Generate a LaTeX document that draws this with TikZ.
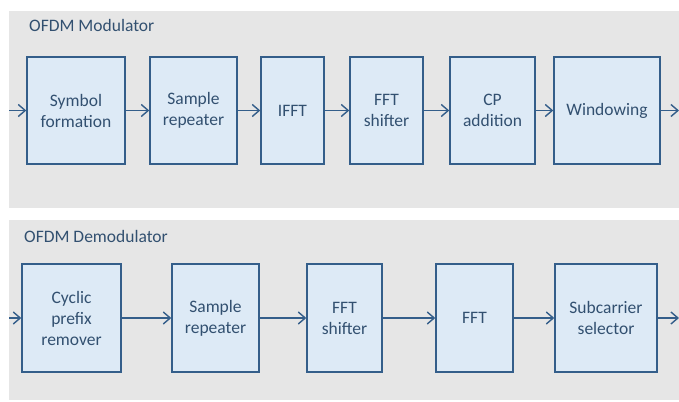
\documentclass[tikz,border=0pt]{standalone}
\usepackage{fontspec}
\setmainfont{Carlito}
\usetikzlibrary{positioning,arrows.meta}

\definecolor{panelgray}{RGB}{230,230,230}
\definecolor{boxfill}{RGB}{221,234,246}
\definecolor{boxline}{RGB}{52,94,138}
\definecolor{txtblue}{RGB}{50,80,112}

\begin{document}
\begin{tikzpicture}[x=1pt,y=-1pt,
  blk/.style={draw=boxline, fill=boxfill, line width=1.4pt, align=center,
    text=txtblue, font=\fontsize{17.5}{21}\selectfont, inner sep=0pt},
  ttl/.style={anchor=base west, text=txtblue, inner sep=0pt,
    font=\fontsize{17.5}{21}\selectfont},
  flow/.style={draw=boxline, line width=1.4pt,
    -{Straight Barb[length=7pt,width=12pt,line width=1.4pt]}}]
\useasboundingbox (0,0) rectangle (679,401);

\def\ya{110.5};
\def\ha{107};
\def\yb{318};
\def\hb{108};

% panels
\fill[panelgray] (9,11) rectangle (679,208);
\fill[panelgray] (9,220) rectangle (679,400);
\node[ttl] (mtitle) at (29,32) {OFDM Modulator};
\node[ttl] (dtitle) at (24,242) {OFDM Demodulator};

% modulator
\coordinate (min) at (9,\ya);
\coordinate (mout) at (679,\ya);
\node[blk, minimum width=98, minimum height=\ha] (sym) at (76,\ya) {Symbol\\formation};
\node[blk, minimum width=87, minimum height=\ha] (rep) at (193.5,\ya) {Sample\\repeater};
\node[blk, minimum width=63, minimum height=\ha] (ifft) at (292.5,\ya) {IFFT};
\node[blk, minimum width=73, minimum height=\ha] (shf) at (386.5,\ya) {FFT\\shifter};
\node[blk, minimum width=85, minimum height=\ha] (cpadd) at (492.5,\ya) {CP\\addition};
\node[blk, minimum width=106, minimum height=\ha] (win) at (607,\ya) {Windowing};
\draw[flow] (min) -- (sym);
\draw[flow] (sym) -- (rep);
\draw[flow] (rep) -- (ifft);
\draw[flow] (ifft) -- (shf);
\draw[flow] (shf) -- (cpadd);
\draw[flow] (cpadd) -- (win);
\draw[flow] (win) -- (mout);

% demodulator
\coordinate (din) at (9,\yb);
\coordinate (dout) at (679,\yb);
\node[blk, minimum width=99, minimum height=\hb] (cpr) at (71.5,\yb) {Cyclic\\prefix\\remover};
\node[blk, minimum width=87, minimum height=\hb] (drep) at (215.5,\yb) {Sample\\repeater};
\node[blk, minimum width=75, minimum height=\hb] (dshf) at (344.5,\yb) {FFT\\shifter};
\node[blk, minimum width=77, minimum height=\hb] (fft) at (474.5,\yb) {FFT};
\node[blk, minimum width=102, minimum height=\hb] (sel) at (606,\yb) {Subcarrier\\selector};
\draw[flow] (din) -- (cpr);
\draw[flow] (cpr) -- (drep);
\draw[flow] (drep) -- (dshf);
\draw[flow] (dshf) -- (fft);
\draw[flow] (fft) -- (sel);
\draw[flow] (sel) -- (dout);

\end{tikzpicture}
\end{document}
